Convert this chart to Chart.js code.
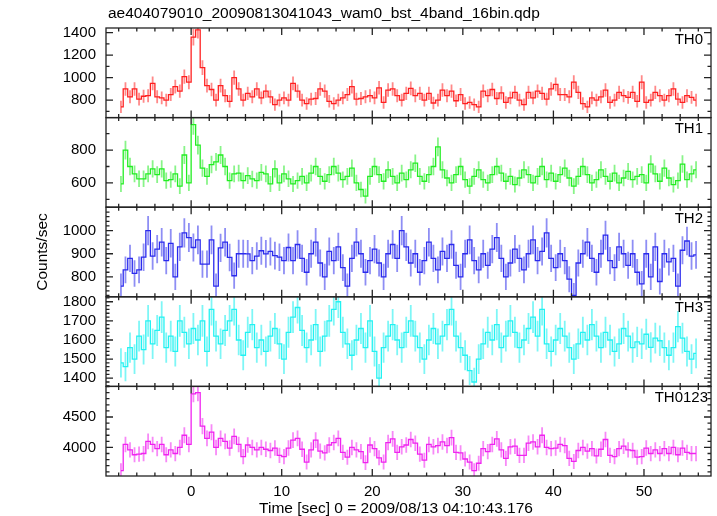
<!DOCTYPE html>
<html>
<head>
<meta charset="utf-8">
<script src="https://cdn.jsdelivr.net/npm/chart.js@4"></script>
<style>
html, body { margin: 0; padding: 0; background: #fff; }
</style>
</head>
<body>
<canvas id="lc" width="717" height="516"></canvas>
<script>
const TITLE = 'ae404079010_20090813041043_wam0_bst_4band_16bin.qdp';
const X_TITLE = 'Time [sec] 0 = 2009/08/13 04:10:43.176';
const Y_TITLE = 'Counts/sec';

// bin grid: first bin centre and bin width (sec)
const T_START = -7.75;
const BIN = 0.5;
// exposure of one bin in the original file, used for the Poisson error bars
const REF_BIN = 0.25;

const bands = ['TH0', 'TH1', 'TH2', 'TH3', 'TH0123'];
const xTicks = [0, 10, 20, 30, 40, 50];

const th0 = [
  740, 900, 830, 900, 810, 835, 840, 950,
  830, 820, 800, 850, 920, 880, 1010, 960,
  1360, 1425, 1090, 930, 895, 800, 930, 840,
  790, 1000, 900, 800, 860, 830, 900, 820,
  880, 830, 760, 800, 820, 800, 950, 880,
  800, 770, 810, 815, 900, 880, 790, 770,
  800, 820, 850, 920, 810, 815, 830, 840,
  820, 910, 780, 890, 900, 840, 800, 860,
  905, 840, 860, 800, 860, 775, 800, 890,
  840, 880, 795, 850, 770, 780, 760, 740,
  880, 840, 895, 815, 865, 780, 820, 870,
  800, 760, 870, 820, 880, 860, 810, 900,
  940, 850, 850, 830, 960, 870, 770, 740,
  820, 800, 830, 890, 780, 800, 870, 840,
  825, 870, 790, 960, 780, 800, 870, 840,
  800, 840, 900, 810, 780, 840, 825, 800
];
const th1 = [
  594, 800, 700, 655, 625, 625, 655, 685,
  650, 685, 614, 620, 655, 580, 770, 600,
  955, 830, 690, 640, 712, 728, 770, 700,
  614, 655, 660, 614, 644, 624, 614, 664,
  655, 594, 685, 600, 655, 625, 594, 614,
  640, 600, 660, 700, 640, 610, 650, 700,
  660, 620, 640, 690, 600, 560, 520, 640,
  700, 650, 610, 680, 640, 600, 660, 620,
  680, 720, 640, 610, 650, 700, 820, 680,
  630, 600, 650, 700, 620, 580, 640, 680,
  620, 600, 650, 700, 660, 610, 640, 590,
  630, 680, 650, 600, 640, 700, 620, 660,
  610, 650, 690, 630, 580, 640, 700, 650,
  600, 620, 680, 640, 610, 660, 600, 630,
  670, 620, 640, 650, 600, 715, 655, 610,
  690, 630, 590, 614, 715, 620, 655, 680
];
const th2 = [
  760, 830, 880, 815, 830, 885, 1000, 890,
  920, 950, 870, 945, 800, 930, 990, 970,
  927, 960, 855, 855, 960, 760, 925, 950,
  884, 805, 900, 900, 899, 870, 890, 913,
  899, 910, 892, 885, 870, 927, 870, 940,
  880, 820, 900, 950, 860, 800, 910, 870,
  930, 840, 760, 880, 950, 900, 820, 870,
  920, 860, 800, 900, 940, 880, 1000, 930,
  860, 900, 820, 870, 950, 880, 830, 910,
  880, 940, 850, 800, 900, 960, 870, 830,
  900, 850, 920, 970, 880, 800, 860, 920,
  880, 830, 900, 960, 870, 910, 990, 880,
  840, 900, 870, 790, 720, 860, 900, 950,
  880, 820, 900, 980, 870, 840, 930, 900,
  850, 900, 820, 770, 900, 800, 930, 780,
  900, 865, 880, 760, 915, 955, 890, 895
];
const th3 = [
  1480, 1460, 1560, 1500, 1620, 1550, 1700, 1580,
  1650, 1720, 1560, 1620, 1540, 1700, 1640, 1580,
  1660, 1600, 1700, 1540, 1760, 1620, 1580, 1650,
  1700, 1760, 1600, 1520, 1640, 1680, 1560, 1600,
  1540, 1620, 1660, 1580, 1500, 1640, 1720, 1770,
  1650, 1560, 1600, 1680, 1540, 1620, 1700, 1760,
  1800, 1640, 1580, 1520, 1600, 1660, 1560, 1700,
  1540, 1400, 1560, 1620, 1680, 1600, 1560, 1640,
  1700, 1620, 1560, 1500, 1600, 1660, 1580, 1620,
  1680, 1760, 1620, 1560, 1520, 1440, 1380, 1500,
  1580, 1640, 1600, 1680, 1560, 1620, 1700, 1640,
  1560, 1600, 1660, 1720, 1620, 1760, 1580, 1540,
  1600, 1660, 1620, 1560, 1500, 1580, 1640, 1600,
  1680, 1620, 1560, 1640, 1600, 1540, 1580, 1660,
  1620, 1560, 1590, 1580, 1630, 1561, 1610, 1596,
  1560, 1520, 1560, 1670, 1610, 1540, 1500, 1530
];
const th0123 = [
  3620, 4050, 3960, 3880, 3890, 3900, 4100, 4050,
  3980, 4050, 3880, 3960, 3900, 4000, 4200, 4050,
  4880, 4900, 4350, 4150, 4250, 4000, 4150, 4100,
  3990, 4180, 4050, 3850, 4040, 4000, 3960, 4000,
  3970, 3950, 3990, 3870, 3850, 3990, 4120, 4150,
  3970, 3760, 3960, 4120, 3940, 3910, 4040, 4080,
  4150, 3920, 3840, 4000, 3960, 3930, 3750, 4040,
  3980, 3830, 3760, 4080, 4140, 3920, 4010, 4040,
  4130, 4070, 3890, 3790, 4050, 4010, 4030, 4090,
  4030, 4160, 3920, 3910, 3810, 3760, 3620, 3740,
  3980, 3930, 4050, 4140, 3960, 3820, 4010, 4020,
  3870, 3870, 4070, 4090, 4010, 4200, 4000, 3980,
  3990, 4050, 4030, 3820, 3770, 3950, 4000, 3940,
  3980, 3860, 3970, 4130, 3870, 3850, 3980, 4020,
  3960, 3950, 3840, 3850, 3990, 3900, 3960, 3900,
  3980, 3900, 4000, 3880, 3990, 3920, 3900, 3900
];

const yRanges = [[645, 1442], [452, 998], [714, 1101], [1357, 1826], [3531, 5002]];
const yLabels = [[800, 1000, 1200, 1400], [600, 800], [800, 900, 1000], [1400, 1500, 1600, 1700, 1800], [4000, 4500]];
const yMinorStep = [100, 100, 20, 20, 100];

const series = [th0, th1, th2, th3, th0123];
const times = th0.map((_, i) => T_START + i * BIN);

const lineColors = ['#ff2020', '#22ee22', '#2a2aee', '#22f2f2', '#f022f0'];
const errColors = ['rgba(255,40,40,0.55)', 'rgba(40,235,40,0.55)', 'rgba(50,50,235,0.55)', 'rgba(40,240,240,0.6)', 'rgba(240,40,240,0.55)'];
const FONT = '"Liberation Sans", Arial, sans-serif';

const datasets = series.map((vals, k) => ({
  label: bands[k],
  data: vals.map((v, i) => ({ x: times[i], y: v })),
  yAxisID: 'y' + k,
  borderColor: lineColors[k],
  borderWidth: 1.3,
  stepped: 'middle',
  pointRadius: 0,
  pointHoverRadius: 0,
  fill: false
}));

const scales = {
  x: {
    type: 'linear',
    min: -9.4,
    max: 57.4,
    grid: { display: false, drawTicks: false },
    border: { display: false },
    afterBuildTicks: s => { s.ticks = xTicks.map(v => ({ value: v })); },
    afterFit: s => { s.height = 40; },
    ticks: { autoSkip: false, maxRotation: 0, padding: 7, color: '#000', font: { family: FONT, size: 15 }, callback: v => String(v) }
  }
};
bands.forEach((b, k) => {
  scales['y' + k] = {
    type: 'linear',
    position: 'left',
    stack: 'panels',
    stackWeight: 1,
    weight: bands.length - k,
    min: yRanges[k][0],
    max: yRanges[k][1],
    grid: { display: false, drawTicks: false },
    border: { display: false },
    afterBuildTicks: s => { s.ticks = yLabels[k].map(v => ({ value: v })); },
    afterFit: s => { s.width = 60; },
    ticks: { autoSkip: false, padding: 10, color: '#000', font: { family: FONT, size: 15 }, callback: v => String(v) }
  };
});

function panelClip(chart, k) {
  const a = chart.chartArea, ys = chart.scales['y' + k], ctx = chart.ctx;
  ctx.save();
  ctx.beginPath();
  ctx.rect(a.left, ys.top, a.right - a.left, ys.bottom - ys.top);
  ctx.clip();
}

const qdpPlugin = {
  id: 'qdp',
  beforeDatasetsDraw(chart) {
    const ctx = chart.ctx, xs = chart.scales.x;
    series.forEach((vals, k) => {
      const ys = chart.scales['y' + k];
      panelClip(chart, k);
      ctx.strokeStyle = errColors[k];
      ctx.lineWidth = 1.8;
      ctx.beginPath();
      vals.forEach((v, i) => {
        const e = Math.sqrt(v / REF_BIN);
        const px = xs.getPixelForValue(times[i]);
        ctx.moveTo(px, ys.getPixelForValue(v - e));
        ctx.lineTo(px, ys.getPixelForValue(v + e));
      });
      ctx.stroke();
      ctx.restore();
    });
  },
  beforeDatasetDraw(chart, args) { panelClip(chart, args.index); },
  afterDatasetDraw(chart) { chart.ctx.restore(); },
  afterDraw(chart) {
    const ctx = chart.ctx, a = chart.chartArea, xs = chart.scales.x;
    ctx.save();
    ctx.strokeStyle = '#222';
    ctx.lineWidth = 1.3;
    bands.forEach((b, k) => {
      const ys = chart.scales['y' + k];
      const top = ys.top, bot = ys.bottom;
      ctx.strokeRect(a.left, top, a.right - a.left, bot - top);
      ctx.beginPath();
      for (let t = -8; t <= 56; t += 2) {
        const px = xs.getPixelForValue(t);
        const len = t % 10 === 0 ? 7 : 3.5;
        ctx.moveTo(px, top); ctx.lineTo(px, top + len);
        ctx.moveTo(px, bot); ctx.lineTo(px, bot - len);
      }
      const step = yMinorStep[k];
      for (let v = Math.ceil(yRanges[k][0] / step) * step; v <= yRanges[k][1]; v += step) {
        const py = ys.getPixelForValue(v);
        const len = yLabels[k].includes(v) ? 7 : 3.5;
        ctx.moveTo(a.left, py); ctx.lineTo(a.left + len, py);
        ctx.moveTo(a.right, py); ctx.lineTo(a.right - len, py);
      }
      ctx.stroke();
      ctx.fillStyle = '#000';
      ctx.font = '15px ' + FONT;
      ctx.textAlign = 'right';
      ctx.textBaseline = 'alphabetic';
      ctx.fillText(b, k === bands.length - 1 ? 708 : 703, top + 15.5);
    });
    ctx.fillStyle = '#000';
    ctx.font = '15.5px ' + FONT;
    ctx.textAlign = 'left';
    ctx.fillText(TITLE, 108, 18);
    ctx.textAlign = 'center';
    ctx.fillText(X_TITLE, 396, 513);
    ctx.translate(42, (a.top + a.bottom) / 2);
    ctx.rotate(-Math.PI / 2);
    ctx.fillText(Y_TITLE, 0, 5);
    ctx.restore();
  }
};

new Chart(document.getElementById('lc'), {
  type: 'line',
  data: { datasets },
  options: {
    responsive: false,
    animation: false,
    events: [],
    layout: { padding: { left: 46, right: 6, top: 28, bottom: 0 } },
    plugins: { legend: { display: false }, tooltip: { enabled: false } },
    scales
  },
  plugins: [qdpPlugin]
});
</script>
</body>
</html>
